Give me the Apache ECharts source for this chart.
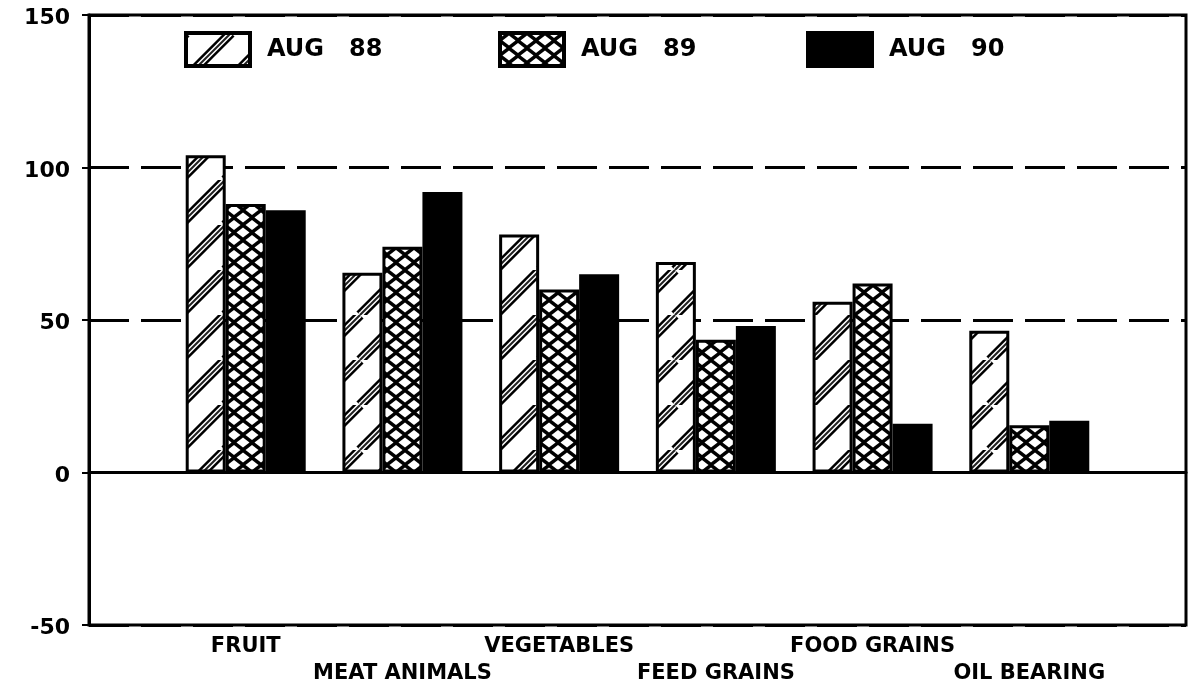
<!DOCTYPE html>
<html>
<head>
<meta charset="utf-8">
<script src="https://cdn.jsdelivr.net/npm/echarts@6/dist/echarts.min.js"></script>
<style>
  html, body { margin: 0; padding: 0; background: #fff; }
  #main { width: 1191px; height: 689px; }
</style>
</head>
<body>
<div id="main"></div>
<script>
// categories and values
const categories = ['FRUIT', 'MEAT ANIMALS', 'VEGETABLES', 'FEED GRAINS', 'FOOD GRAINS', 'OIL BEARING']
const aug88 = [104, 65.5, 78, 69, 56, 46.5]
const aug89 = [88, 74, 60, 43.5, 62, 15.5]
const aug90 = [86, 92, 65, 48, 16, 17]
const yTicks = { min: -50, max: 150, step: 50 }

// empty slot at each end so the groups sit where the ticks are
const axisCats = [''].concat(categories, [''])
const pad = arr => ['-'].concat(arr, ['-'])

// diagonal hatch (white with double lines)
function hatchPattern() {
    const s = 45
    const c = document.createElement('canvas')
    c.width = s; c.height = s
    const g = c.getContext('2d')
    g.fillStyle = '#fff'
    g.fillRect(0, 0, s, s)
    const strokes = [[10, '#000'], [5, '#fff'], [2, '#222']]
    strokes.forEach(([w, col]) => {
        g.strokeStyle = col
        g.lineWidth = w
        for (const x0 of [-s, 0, s]) {
            g.beginPath()
            g.moveTo(x0, s)
            g.lineTo(x0 + s, 0)
            g.stroke()
        }
    })
    return c
}

// cross hatch (black with white diamonds)
function crossPattern() {
    const w = 18, h = 15
    const c = document.createElement('canvas')
    c.width = w; c.height = h
    const g = c.getContext('2d')
    g.fillStyle = '#000'
    g.fillRect(0, 0, w, h)
    g.fillStyle = '#fff'
    const pts = [[0, 0], [w, 0], [0, h], [w, h], [w / 2, h / 2]]
    pts.forEach(([cx, cy]) => {
        g.beginPath()
        g.moveTo(cx - 6.5, cy)
        g.lineTo(cx, cy - 5)
        g.lineTo(cx + 6.5, cy)
        g.lineTo(cx, cy + 5)
        g.closePath()
        g.fill()
    })
    return c
}

const font = 'DejaVu Sans'
const legendText = {
    fontFamily: font, fontWeight: 'bold', fontSize: 24, color: '#000',
    padding: [0, 0, 0, 12]
}
const legendBase = {
    top: 26, itemWidth: 64, itemHeight: 33, icon: 'rect',
    itemStyle: { borderColor: '#000', borderWidth: 4 },
    textStyle: legendText,
    formatter: name => name.replace(' ', '   ')
}

let myChart = echarts.init(document.getElementById('main'))
let option = {
    animation: false,
    backgroundColor: '#fff',
    legend: [
        Object.assign({ left: 179, data: ['AUG 88'] }, legendBase),
        Object.assign({ left: 493, data: ['AUG 89'] }, legendBase),
        Object.assign({ left: 801, data: ['AUG 90'] }, legendBase),
    ],
    grid: {
        left: 89, right: 5, top: 15, bottom: 64,
        show: true, borderColor: '#000', borderWidth: 3
    },
    xAxis: {
        type: 'category',
        data: axisCats,
        boundaryGap: false,
        axisLine: { lineStyle: { color: '#000', width: 3 } },
        axisTick: { inside: true, length: 7, lineStyle: { color: '#000', width: 2 } },
        axisLabel: {
            interval: 0,
            margin: 8,
            color: '#000',
            fontFamily: font,
            fontWeight: 'bold',
            fontSize: 21,
            lineHeight: 27,
            formatter: (v, i) => (i % 2 === 1 ? v : '\n' + v)
        },
        splitLine: { show: false }
    },
    yAxis: {
        type: 'value',
        min: yTicks.min,
        max: yTicks.max,
        interval: yTicks.step,
        axisLine: { show: true, lineStyle: { color: '#000', width: 3 } },
        axisTick: { show: true, length: 7, lineStyle: { color: '#000', width: 2 } },
        axisLabel: {
            margin: 19,
            formatter: v => '{n|' + v + '}',
            rich: {
                n: {
                    color: '#000',
                    fontFamily: font,
                    fontWeight: 'bold',
                    fontSize: 22,
                    padding: [7, 0, 0, 0]
                }
            }
        },
        splitLine: { lineStyle: { color: '#000', width: 3, type: [40, 12] } }
    },
    series: [
        {
            name: 'AUG 88', type: 'bar', barWidth: 40, barGap: '0%',
            data: pad(aug88),
            itemStyle: { color: { image: hatchPattern(), repeat: 'repeat' }, borderColor: '#000', borderWidth: 3 },
            markLine: {
                silent: true, symbol: 'none', label: { show: false },
                lineStyle: { color: '#000', type: 'solid', width: 3 },
                data: [{ yAxis: 0 }]
            }
        },
        {
            name: 'AUG 89', type: 'bar', barWidth: 40, barGap: '0%',
            data: pad(aug89),
            itemStyle: { color: { image: crossPattern(), repeat: 'repeat' }, borderColor: '#000', borderWidth: 3 }
        },
        {
            name: 'AUG 90', type: 'bar', barWidth: 40, barGap: '0%',
            data: pad(aug90),
            itemStyle: { color: '#000', borderColor: '#000', borderWidth: 3 }
        }
    ]
}
myChart.setOption(option)
</script>
</body>
</html>
